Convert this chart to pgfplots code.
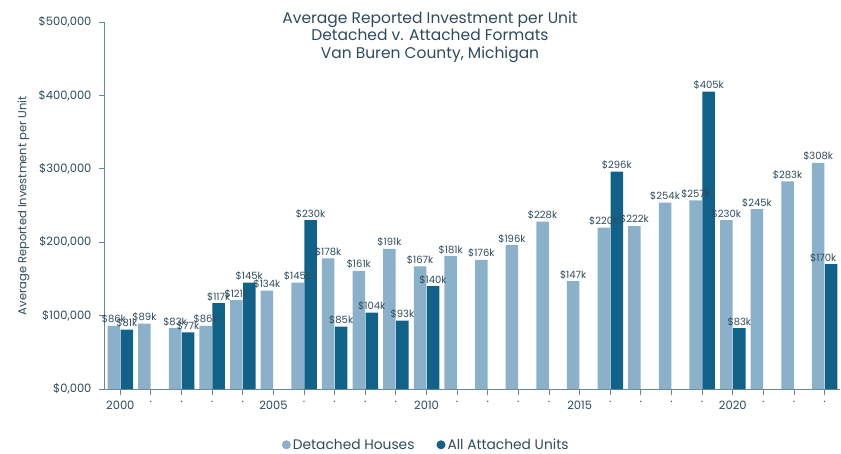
\documentclass[border=0pt]{standalone}
\usepackage{fontspec}
\setmainfont{Poppins}
\usepackage{pgfplots}
\pgfplotsset{compat=1.18}
\definecolor{detc}{HTML}{8AB1C9}
\definecolor{attc}{HTML}{116289}
\definecolor{txtc}{HTML}{2E4B5E}
\definecolor{axc}{HTML}{6A8797}
\begin{document}
\begin{tikzpicture}
\begin{axis}[
  anchor=south west,
  scale only axis, width=735pt, height=367pt,
  xmin=-0.5, xmax=23.5, ymin=0, ymax=500,
  axis lines*=left,
  axis line style={axc, line width=1pt},
  tick style={axc, line width=1pt},
  tick align=outside,
  major tick length=6pt,
  xtick={0,...,23},
  xticklabels={2000,.,.,.,.,2005,.,.,.,.,2010,.,.,.,.,2015,.,.,.,.,2020,.,.,.},
  ytick={0,100,200,300,400,500},
  yticklabels={{\$0,000},{\$100,000},{\$200,000},{\$300,000},{\$400,000},{\$500,000}},
  ticklabel style={font=\fontsize{11.5}{13}\selectfont, text=txtc},
  yticklabel style={xshift=-4pt},
  xticklabel style={yshift=-3pt},
  /pgf/number format/assume math mode=true,
  ylabel={Average Reported Investment per Unit},
  ylabel style={font=\fontsize{11.5}{13}\selectfont, text=txtc, at={(axis description cs:0,0.5)}, anchor=south, yshift=72pt},
  ybar, bar width=12.5pt,
  nodes near coords={\$\pgfmathprintnumber[fixed,precision=0]{\pgfplotspointmeta}k},
  every node near coord/.append style={font=\fontsize{10}{11}\selectfont, text=txtc, inner sep=2pt},
  legend style={at={(0.437,-0.152)}, anchor=center, draw=none, fill=none, legend columns=2,
    font=\fontsize{13.8}{15}\selectfont, text=txtc,
    /tikz/every even column/.append style={column sep=20pt}},
  legend cell align=left,
  clip=false,
]
\addplot[bar shift=-6.5pt, fill=detc, draw=none,
  legend image code/.code={\fill[detc] (0pt,0pt) circle (4.5pt);}] coordinates {
(0,86) (1,89) (2,83) (3,86) (4,121) (5,134) (6,145) (7,178) (8,161) (9,191)
(10,167) (11,181) (12,176) (13,196) (14,228) (15,147) (16,220) (17,222)
(18,254) (19,257) (20,230) (21,245) (22,283) (23,308)};
\addplot[bar shift=6.5pt, fill=attc, draw=none,
  visualization depends on={x \as \xv},
  every node near coord/.append style={xshift={(\xv>22)*(-8pt)}},
  legend image code/.code={\fill[attc] (0pt,0pt) circle (4.5pt);}] coordinates {
(0,81) (2,77) (3,117) (4,145) (6,230) (7,85) (8,104) (9,93) (10,140)
(16,296) (19,405) (20,83) (23,170)};
\legend{Detached Houses, All Attached Units}
\end{axis}
\node[text=txtc, align=center, font=\fontsize{15.5}{17.5}\selectfont] at (325pt,352pt) {Average Reported Investment per Unit\\Detached v. Attached Formats\\Van Buren County, Michigan};
\pgfresetboundingbox
\useasboundingbox (-105pt,-64pt) rectangle (736pt,389pt);
\end{tikzpicture}
\end{document}
